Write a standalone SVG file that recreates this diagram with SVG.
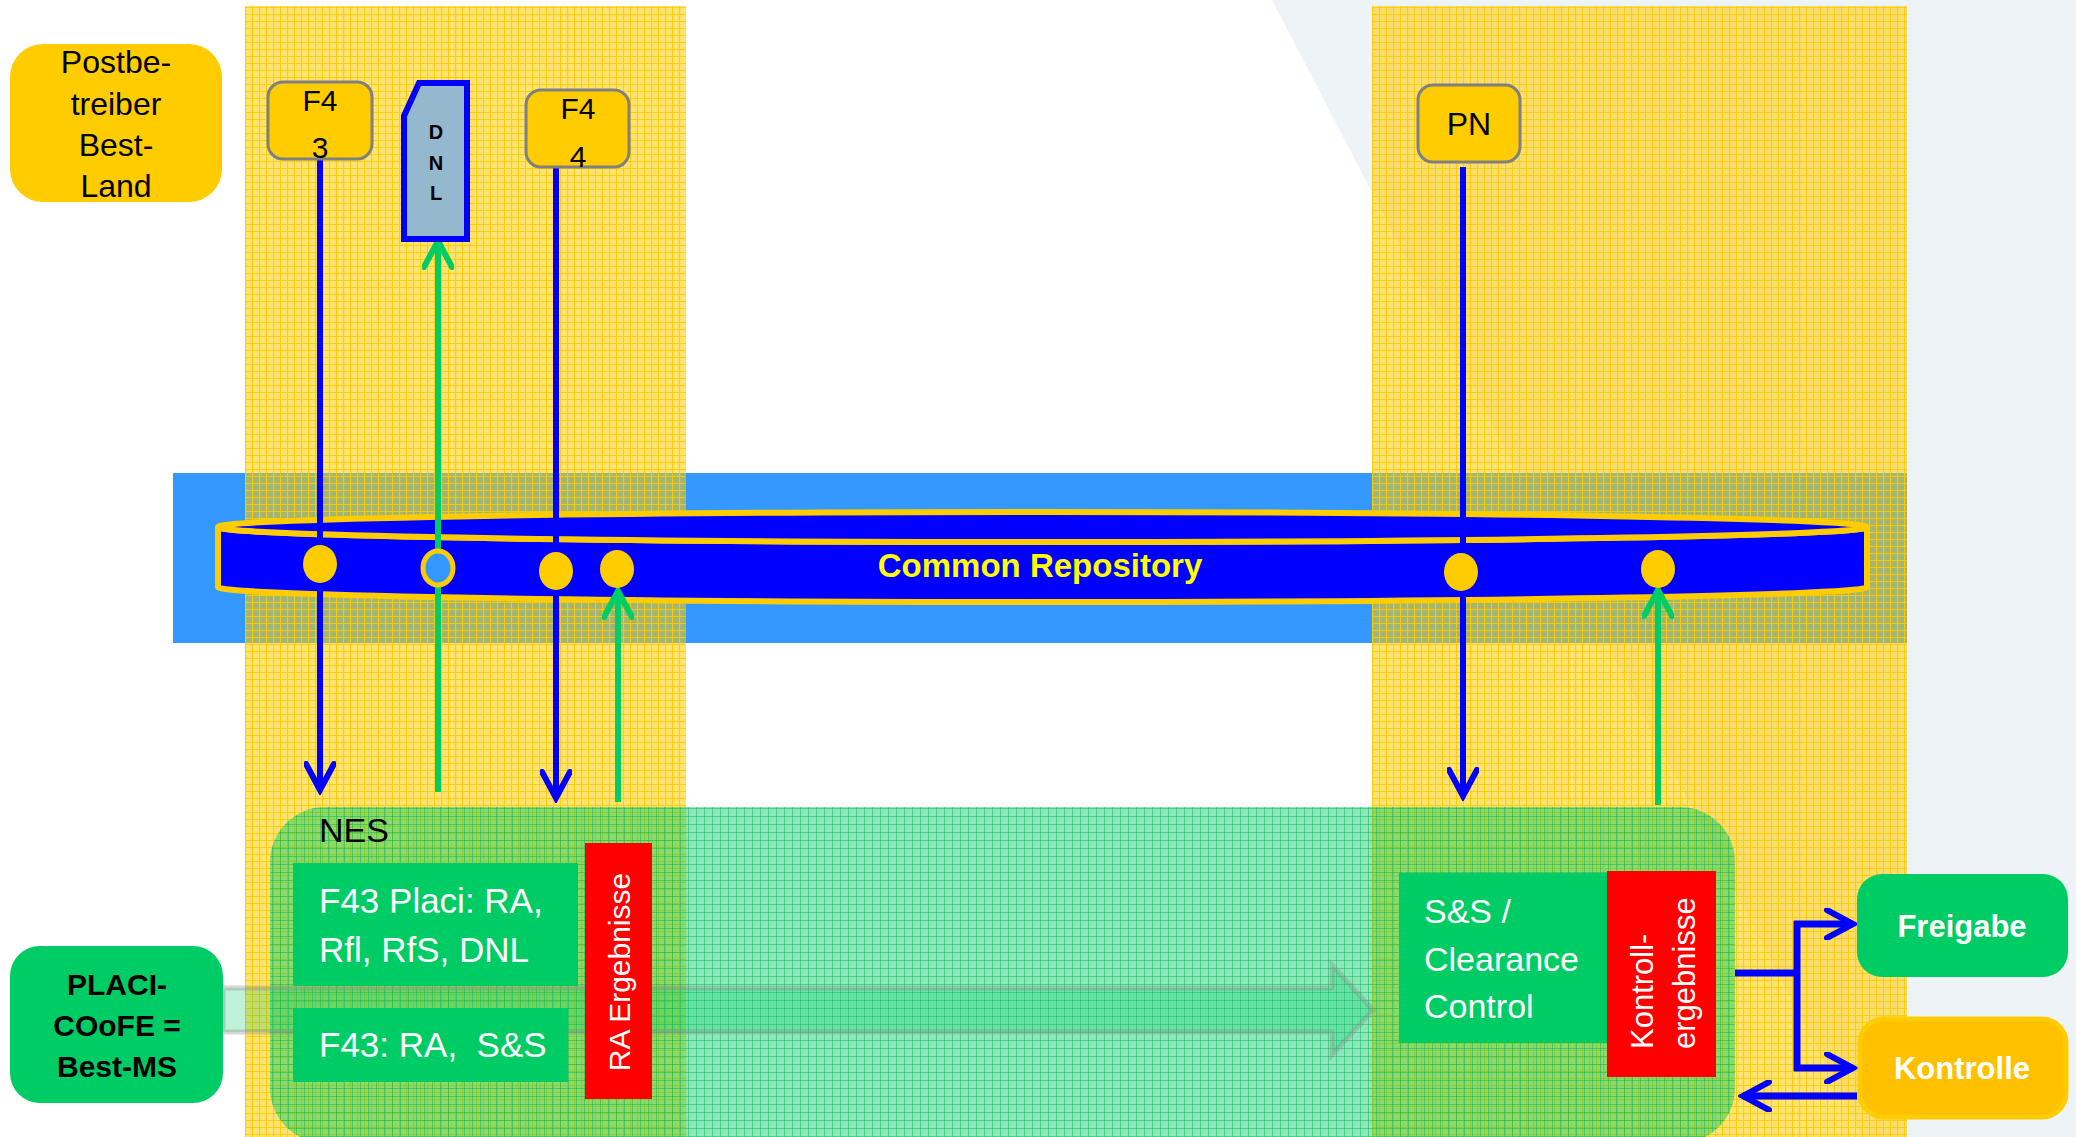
<svg xmlns="http://www.w3.org/2000/svg" width="2076" height="1137" viewBox="0 0 2076 1137">
<defs>
<style>
.t{font-family:"Liberation Sans",Arial,sans-serif;}
.blk{fill:#000;}
.wh{fill:#fff;}
.lb{stroke:#0000FF;stroke-width:6;fill:none;}
.lg{stroke:#00CC66;stroke-width:6;fill:none;}
.ybox{fill:#FFCC00;stroke:#808080;stroke-width:3;}
.gbox{fill:#00CC66;}
.dot{fill:#FFCC00;}
</style>
<pattern id="yg" width="7" height="7" patternUnits="userSpaceOnUse">
<rect width="7" height="7" fill="#FFCC00" fill-opacity="0.55"/>
<path d="M0,0.5H7M0.5,0V7" stroke="#FFCC00" stroke-width="1.2" stroke-opacity="0.9"/>
</pattern>
<pattern id="gg" width="8" height="8" patternUnits="userSpaceOnUse">
<rect width="8" height="8" fill="#00CC66" fill-opacity="0.45"/>
<path d="M0,0.5H8M0.5,0V8" stroke="#00B050" stroke-width="1" stroke-opacity="0.45"/>
</pattern>
<marker id="ab" markerUnits="userSpaceOnUse" viewBox="0 0 34 32" markerWidth="34" markerHeight="32" refX="29" refY="16" orient="auto">
<path d="M3,2 L29,16 L3,30" fill="none" stroke="#0000FF" stroke-width="6" stroke-linecap="round" stroke-linejoin="miter"/>
</marker>
<marker id="ag" markerUnits="userSpaceOnUse" viewBox="0 0 34 32" markerWidth="34" markerHeight="32" refX="29" refY="16" orient="auto">
<path d="M3,2 L29,16 L3,30" fill="none" stroke="#00CC66" stroke-width="6" stroke-linecap="round" stroke-linejoin="miter"/>
</marker>
</defs>

<g id="background">
<rect width="2076" height="1137" fill="#fff"/>
<polygon points="1272,0 2076,0 2076,1137 1863,1137" fill="#EEF3F7"/>
<rect x="173" y="473" width="1734" height="170" fill="#3399FF"/>
<rect x="245" y="6" width="441" height="1131" fill="url(#yg)"/>
<rect x="1372" y="6" width="535" height="1131" fill="url(#yg)"/>
</g>

<g id="common-repository">
<path d="M218,527 L218,587 A824.5,15 0 0 0 1867,587 L1867,527 A824.5,15 0 0 1 218,527 Z" fill="#0000FF" stroke="#FFCC00" stroke-width="6"/>
<ellipse cx="1042.5" cy="527" rx="824.5" ry="15" fill="#0000FF" stroke="#FFCC00" stroke-width="6"/>
<text class="t" x="1040" y="577" font-size="33" font-weight="bold" fill="#FFFF00" text-anchor="middle">Common Repository</text>
</g>

<g id="nes">
<rect x="270" y="807" width="1465" height="336" rx="55" fill="url(#gg)"/>
<text class="t blk" x="319" y="842" font-size="34">NES</text>
</g>

<g id="flow-arrow">
<polygon points="223,988 1332,988 1332,965 1373,1010 1332,1055 1332,1032 223,1032" fill="#00CC66" fill-opacity="0.25" stroke="#8a8a8a" stroke-opacity="0.35" stroke-width="5"/>
</g>

<g id="connectors">
<line class="lb" x1="320" y1="159" x2="320" y2="790" marker-end="url(#ab)"/>
<line class="lg" x1="438" y1="792" x2="438" y2="241" marker-end="url(#ag)"/>
<line class="lb" x1="556" y1="167" x2="556" y2="798" marker-end="url(#ab)"/>
<line class="lg" x1="618" y1="802" x2="618" y2="591" marker-end="url(#ag)"/>
<line class="lb" x1="1463" y1="167" x2="1463" y2="796" marker-end="url(#ab)"/>
<line class="lg" x1="1658" y1="805" x2="1658" y2="590" marker-end="url(#ag)"/>
<path d="M1735,973 H1797 M1797,921 V1071" stroke="#0000FF" stroke-width="7" fill="none"/>
<line x1="1794" y1="924" x2="1853" y2="924" stroke="#0000FF" stroke-width="7" marker-end="url(#ab)"/>
<line x1="1794" y1="1068" x2="1853" y2="1068" stroke="#0000FF" stroke-width="7" marker-end="url(#ab)"/>
<line x1="1857" y1="1096" x2="1743" y2="1096" stroke="#0000FF" stroke-width="7" marker-end="url(#ab)"/>
</g>

<g id="repo-dots">
<ellipse class="dot" cx="320" cy="564" rx="17" ry="19"/>
<ellipse cx="438" cy="568" rx="15" ry="17" fill="#3399FF" stroke="#FFCC00" stroke-width="5"/>
<ellipse class="dot" cx="556" cy="571" rx="17" ry="19"/>
<ellipse class="dot" cx="617" cy="569" rx="17" ry="19"/>
<ellipse class="dot" cx="1461" cy="572" rx="17" ry="19"/>
<ellipse class="dot" cx="1658" cy="569" rx="17" ry="19"/>
</g>

<g id="postbetreiber">
<rect x="10" y="44" width="212" height="158" rx="33" fill="#FFCC00"/>
<text class="t blk" font-size="32" text-anchor="middle"><tspan x="116" y="73">Postbe-</tspan><tspan x="116" y="115">treiber</tspan><tspan x="116" y="156">Best-</tspan><tspan x="116" y="197">Land</tspan></text>
</g>

<g id="f43">
<rect class="ybox" x="268" y="82" width="104" height="77" rx="15"/>
<text class="t blk" font-size="30" text-anchor="middle"><tspan x="320" y="111">F4</tspan><tspan x="320" y="158">3</tspan></text>
</g>

<g id="dnl">
<polygon points="419,83 467,83 467,239 404,239 404,116" fill="#94B8CE" stroke="#0000FF" stroke-width="6"/>
<text class="t blk" font-size="20" font-weight="bold" text-anchor="middle"><tspan x="436" y="139">D</tspan><tspan x="436" y="170">N</tspan><tspan x="436" y="200">L</tspan></text>
</g>

<g id="f44">
<rect class="ybox" x="526" y="90" width="103" height="77" rx="15"/>
<text class="t blk" font-size="30" text-anchor="middle"><tspan x="578" y="119">F4</tspan><tspan x="578" y="167">4</tspan></text>
</g>

<g id="pn">
<rect class="ybox" x="1418" y="85" width="102" height="77" rx="15"/>
<text class="t blk" x="1469" y="135" font-size="32" text-anchor="middle">PN</text>
</g>

<g id="f43-placi">
<rect class="gbox" x="293" y="863" width="285" height="123"/>
<text class="t wh" font-size="35"><tspan x="319" y="913">F43 Placi: RA,</tspan><tspan x="319" y="962">Rfl, RfS, DNL</tspan></text>
</g>

<g id="f43-ra-ss">
<rect class="gbox" x="293" y="1008" width="275" height="74"/>
<text class="t wh" x="319" y="1057" font-size="35" style="white-space:pre">F43: RA,  S&amp;S</text>
</g>

<g id="ra-ergebnisse">
<rect x="585" y="843" width="67" height="256" fill="#FF0000"/>
<text class="t wh" font-size="30" text-anchor="middle" transform="translate(630,972) rotate(-90)">RA Ergebnisse</text>
</g>

<g id="placi-coofe">
<rect class="gbox" x="10" y="946" width="213" height="157" rx="30"/>
<text class="t blk" font-size="30" font-weight="bold" text-anchor="middle"><tspan x="117" y="995">PLACI-</tspan><tspan x="117" y="1036">COoFE =</tspan><tspan x="117" y="1077">Best-MS</tspan></text>
</g>

<g id="clearance-control">
<rect class="gbox" x="1399" y="873" width="208" height="170"/>
<text class="t wh" font-size="34"><tspan x="1424" y="923">S&amp;S /</tspan><tspan x="1424" y="971">Clearance</tspan><tspan x="1424" y="1018">Control</tspan></text>
</g>

<g id="kontrollergebnisse">
<rect x="1607" y="871" width="109" height="206" fill="#FF0000"/>
<text class="t wh" font-size="31" transform="translate(1653,1049) rotate(-90)">Kontroll-</text>
<text class="t wh" font-size="31" transform="translate(1695,1049) rotate(-90)">ergebnisse</text>
</g>

<g id="freigabe">
<rect class="gbox" x="1857" y="874" width="211" height="103" rx="25"/>
<text class="t wh" x="1962" y="937" font-size="31" font-weight="bold" text-anchor="middle">Freigabe</text>
</g>

<g id="kontrolle">
<rect x="1860" y="1019" width="206" height="98" rx="24" fill="#FFC000" stroke="#FFCC00" stroke-width="5"/>
<text class="t wh" x="1962" y="1079" font-size="31" font-weight="bold" text-anchor="middle">Kontrolle</text>
</g>
</svg>
